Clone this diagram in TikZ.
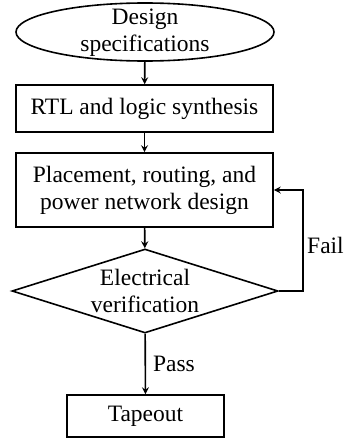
\documentclass[tikz,border=0pt]{standalone}
\usepackage{fontspec}
\setmainfont{Liberation Serif}
\usetikzlibrary{shapes.geometric,arrows.meta}
\begin{document}
\begin{tikzpicture}[x=1pt,y=-1pt,
  every node/.style={font=\fontsize{23.5}{27}\selectfont, align=center},
  shp/.style={draw, line width=1.6pt, inner sep=0pt},
  boxnode/.style={shp, rectangle},
  txt/.style={inner sep=0pt},
  conn/.style={line width=1.6pt, -{Stealth[length=7pt,width=7pt,inset=2.5pt]}}]
\useasboundingbox (0,0) rectangle (345,439);
\node[shp, ellipse, minimum width=258, minimum height=58] (spec) at (145,32) {};
\node[txt] (spectxt) at (145,33) {Design\\specifications};
\node[boxnode, minimum width=257, minimum height=47] (rtl) at (144.5,108.5) {RTL and logic synthesis};
\node[boxnode, minimum width=257, minimum height=74] (place) at (144.5,190) {Placement, routing, and\\power network design};
\node[shp, diamond, minimum width=266, minimum height=84] (ver) at (145,291) {};
\node[txt] (vertxt) at (145,291) {Electrical\\verification};
\node[boxnode, minimum width=157, minimum height=42] (tape) at (145.5,416) {Tapeout};
\coordinate (c1) at (303,291);
\coordinate (c2) at (303,190);
\draw[conn] (spec) -- (rtl);
\draw[conn] (rtl) -- (place);
\draw[conn] (place) -- (ver);
\draw[conn] (ver) -- node[right, txt, xshift=7pt] (pass) {Pass} (tape);
\draw[conn] (ver.east) -- (c1) -- (c2) -- (place.east);
\node[txt, anchor=west] (fail) at (307,245) {Fail};
\end{tikzpicture}
\end{document}
